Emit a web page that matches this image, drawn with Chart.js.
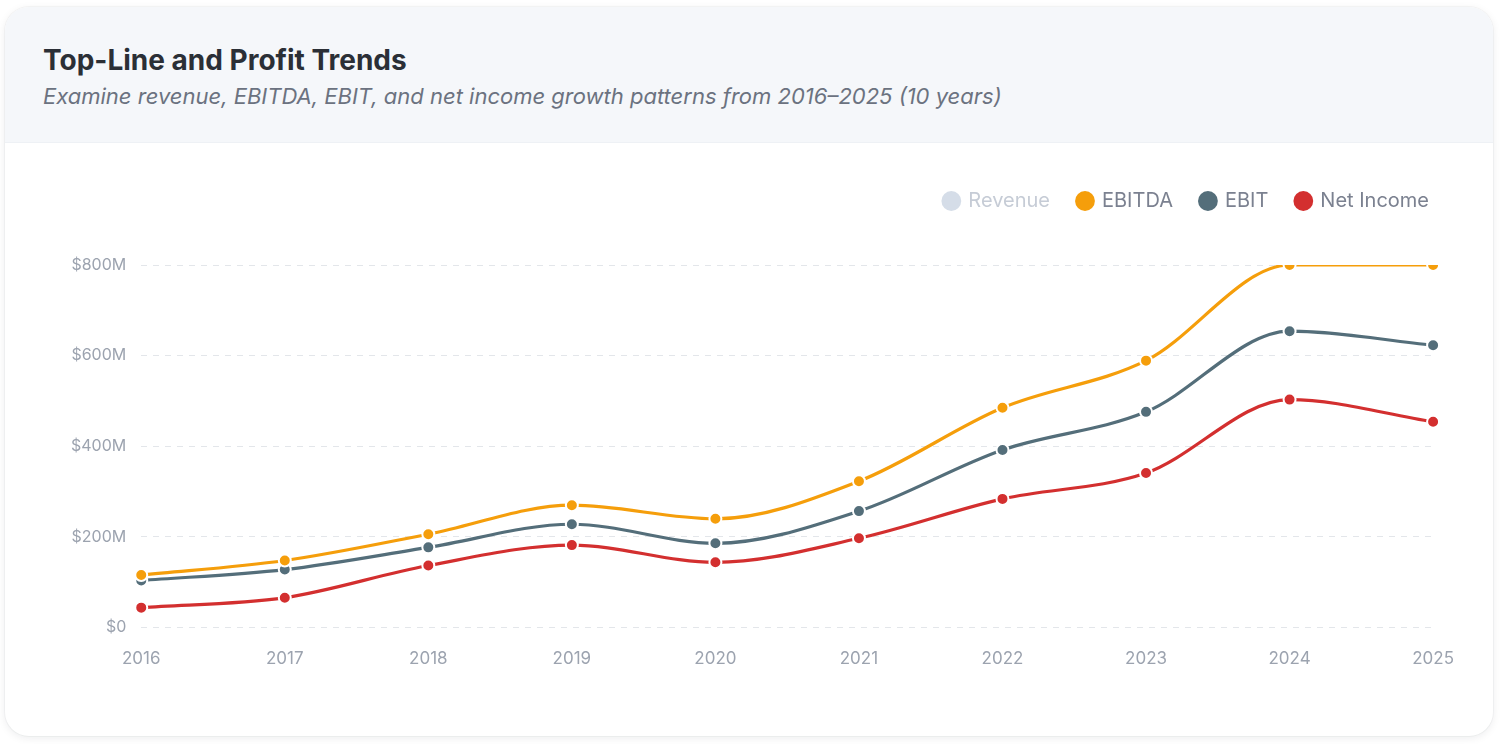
<!DOCTYPE html>
<html>
<head>
<meta charset="utf-8">
<script src="https://cdn.jsdelivr.net/npm/chart.js@4.4.1/dist/chart.umd.min.js"></script>
<style>
  html, body { margin: 0; padding: 0; background: #ffffff; font-family: Inter, "Noto Sans", sans-serif; }
  .card {
    position: absolute; left: 5px; top: 7px; width: 1488px; height: 729px;
    border-radius: 24px; background: #ffffff; overflow: hidden;
    box-shadow: 0 2px 8px rgba(15, 23, 42, 0.08), 0 0 0 1px rgba(15, 23, 42, 0.03);
  }
  .header {
    height: 136px; background: #f5f7fa; border-bottom: 1px solid #eef1f5;
    box-sizing: border-box; padding: 35px 0 0 38px;
  }
  .title { font-size: 28px; font-weight: 700; color: #2b2f36; margin: 0; line-height: 36px; }
  .subtitle { font-size: 22px; font-style: italic; color: #6b7280; margin: 3px 0 0 0; line-height: 30px; }
  .wrap { position: absolute; left: 51px; top: 156px; width: 1411px; height: 519px; }
</style>
</head>
<body>
<div class="card">
  <div class="header">
    <div class="title">Top-Line and Profit Trends</div>
    <div class="subtitle">Examine revenue, EBITDA, EBIT, and net income growth patterns from 2016–2025 (10 years)</div>
  </div>
  <div class="wrap"><canvas id="c"></canvas></div>
</div>
<script>
const years = ["2016","2017","2018","2019","2020","2021","2022","2023","2024","2025"];
const revenue = [420, 520, 680, 820, 760, 1000, 1420, 1700, 2250, 2200];
const ebitda = [116, 148, 206, 270, 240, 323, 485, 589, 800, 800];
const ebit = [104, 128, 177, 228, 186, 257, 392, 476, 654, 623];
const netIncome = [44, 66, 137, 182, 144, 197, 284, 341, 503, 454];
const yTicks = [0, 200, 400, 600, 800];

function ds(label, data, color, hidden) {
  return {
    label, data, hidden: !!hidden,
    borderColor: color, backgroundColor: color,
    borderWidth: 3.2, pointRadius: 6, pointBorderWidth: 2, pointBorderColor: '#ffffff',
    pointBackgroundColor: color, cubicInterpolationMode: 'monotone', fill: false
  };
}

const legendGap = {
  id: 'legendGap',
  beforeInit(chart) {
    const orig = chart.legend.fit;
    chart.legend.fit = function () { orig.bind(chart.legend)(); this.height += 44; };
  },
  afterLayout(chart) {
    chart.legend.right -= 10;
  }
};

new Chart(document.getElementById('c'), {
  type: 'line',
  plugins: [legendGap],
  data: {
    labels: years,
    datasets: [
      ds('Revenue', revenue, '#d5dde8', true),
      ds('EBITDA', ebitda, '#f59e0b'),
      ds('EBIT', ebit, '#546e7a'),
      ds('Net Income', netIncome, '#d32f2f')
    ]
  },
  options: {
    responsive: true, maintainAspectRatio: false, animation: false,
    layout: { padding: { top: 0, right: 0, left: 0, bottom: 0 } },
    plugins: {
      legend: {
        position: 'top', align: 'end',
        labels: {
          usePointStyle: true, pointStyle: 'circle', boxWidth: 14, boxHeight: 14,
          padding: 28, color: '#7b8190', font: { family: 'Inter', size: 20 },
          generateLabels(chart) {
            return chart.data.datasets.map((d, i) => {
              const hidden = !chart.isDatasetVisible(i);
              return {
                text: d.label,
                fillStyle: hidden ? '#d5dde8' : d.borderColor,
                strokeStyle: hidden ? '#d5dde8' : d.borderColor,
                lineWidth: 0, pointStyle: 'circle', hidden: false,
                fontColor: hidden ? '#c6ccd6' : '#7b8190',
                datasetIndex: i
              };
            });
          }
        }
      },
      tooltip: { enabled: false }
    },
    scales: {
      x: {
        offset: false,
        grid: { display: false },
        border: { display: false },
        ticks: { color: '#9ca3af', font: { family: 'Inter', size: 17 }, padding: 13 }
      },
      y: {
        min: 0, max: 800,
        afterBuildTicks(axis) { axis.ticks = yTicks.map(v => ({ value: v })); },
        grid: { color: '#e3e6ea', lineWidth: 1, drawTicks: false },
        border: { display: false, dash: [6, 6] },
        ticks: {
          color: '#9ca3af', font: { family: 'Inter', size: 16 }, padding: 15,
          callback: v => v === 0 ? '$0' : '$' + v + 'M'
        }
      }
    }
  }
});
</script>
</body>
</html>
